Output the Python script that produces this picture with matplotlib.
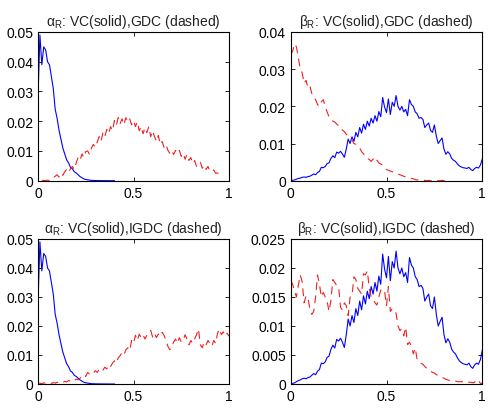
import numpy as np
import matplotlib
matplotlib.use("Agg")
import matplotlib.pyplot as plt

plt.rcParams['font.family'] = ['Liberation Sans', 'DejaVu Sans']
plt.rcParams['mathtext.fontset'] = 'custom'
plt.rcParams['mathtext.rm'] = 'Liberation Sans'
plt.rcParams['mathtext.it'] = 'Liberation Sans'

# ---------------- data ----------------
# alpha_R, VC (solid) -- same in both alpha panels
x_alpha_vc = np.round(np.arange(0, 0.401, 0.01), 2)
alpha_vc = [0.028, 0.049, 0.039, 0.045, 0.044, 0.040, 0.039, 0.035, 0.031, 0.024,
            0.021, 0.017, 0.014, 0.011, 0.009, 0.007, 0.006, 0.0045, 0.0040, 0.0030,
            0.0026, 0.0020, 0.0014, 0.0010, 0.0006, 0.0004, 0.0003, 0.0002, 0.0001, 0.0001,
            0.00005, 0.00005, 0.00003, 0.00003, 0.00002, 0.00002, 0.00001, 0.00001, 0.0, 0.0, 0.0]

# alpha_R, GDC (dashed)
x_alpha_gdc = np.round(np.arange(0.02, 0.951, 0.01), 2)
alpha_gdc = [0.0, 0.0001, 0.0, 0.0002, 0.0001, 0.0005, 0.001, 0.0015, 0.002, 0.0012,
             0.0025, 0.0018, 0.003, 0.0038, 0.0028, 0.004, 0.0048, 0.0038, 0.006, 0.0078,
             0.0068, 0.009, 0.0078, 0.0098, 0.010, 0.0088, 0.011, 0.0122, 0.0112, 0.013,
             0.0148, 0.0132, 0.0162, 0.0148, 0.0172, 0.0158, 0.0182, 0.0168, 0.0202, 0.0185,
             0.0212, 0.0192, 0.0208, 0.0188, 0.0212, 0.0198, 0.0208, 0.0188, 0.0202, 0.0182,
             0.0198, 0.0168, 0.0182, 0.0158, 0.0178, 0.0162, 0.0182, 0.0148, 0.0168, 0.0148,
             0.0132, 0.0152, 0.0122, 0.0132, 0.0112, 0.0122, 0.0102, 0.0092, 0.0102, 0.0088,
             0.0102, 0.0092, 0.0102, 0.0082, 0.0092, 0.0072, 0.0088, 0.0068, 0.0078, 0.0058,
             0.0068, 0.0048, 0.0058, 0.0062, 0.0042, 0.0052, 0.0038, 0.0048, 0.0032, 0.003,
             0.0036, 0.0025, 0.0026, 0.002]

# alpha_R, IGDC (dashed)
x_alpha_igdc = np.round(np.arange(0, 1.001, 0.01), 2)
alpha_igdc = [0.0002, 0.0003, 0.0001, 0.0004, 0.0002, 0.0001, 0.0003, 0.0002, 0.0005, 0.0003,
              0.0006, 0.0004, 0.0007, 0.0005, 0.0009, 0.0007, 0.0012, 0.0010, 0.0015, 0.0012,
              0.0017, 0.0014, 0.0020, 0.0025, 0.0032, 0.0026, 0.0040, 0.0035, 0.0042, 0.0038,
              0.0046, 0.0040, 0.0050, 0.0055, 0.0048, 0.0058, 0.0052, 0.0066, 0.0060, 0.0072,
              0.0080, 0.0072, 0.0090, 0.0098, 0.0108, 0.0100, 0.0118, 0.0125, 0.0115, 0.0150,
              0.0140, 0.0168, 0.0150, 0.0172, 0.0160, 0.0170, 0.0155, 0.0168, 0.0175, 0.0185,
              0.0162, 0.0175, 0.0160, 0.0172, 0.0165, 0.0178, 0.0168, 0.0150, 0.0130, 0.0118,
              0.0125, 0.0145, 0.0155, 0.0140, 0.0160, 0.0145, 0.0150, 0.0170, 0.0155, 0.0135,
              0.0150, 0.0140, 0.0155, 0.0170, 0.0190, 0.0135, 0.0125, 0.0145, 0.0135, 0.0150,
              0.0140, 0.0130, 0.0150, 0.0140, 0.0175, 0.0190, 0.0170, 0.0180, 0.0165, 0.0175,
              0.0165]

# beta_R, VC (solid) -- same in both beta panels
x_beta_vc = np.round(np.arange(0, 1.001, 0.01), 2)
beta_vc = [0.0, 0.0001, 0.0002, 0.0004, 0.0006, 0.0007, 0.0009, 0.0010, 0.0009, 0.0011,
           0.0012, 0.0015, 0.0018, 0.0016, 0.0022, 0.0025, 0.0036, 0.0035, 0.0038, 0.0046,
           0.0048, 0.0060, 0.0067, 0.0062, 0.0077, 0.0074, 0.0079, 0.0072, 0.0063, 0.0085,
           0.0112, 0.0100, 0.0118, 0.0106, 0.0130, 0.0118, 0.0143, 0.0128, 0.0152, 0.0138,
           0.0160, 0.0147, 0.0168, 0.0155, 0.0175, 0.0160, 0.0186, 0.0172, 0.0224, 0.0198,
           0.0183, 0.0220, 0.0178, 0.0211, 0.0200, 0.0229, 0.0200, 0.0190, 0.0200, 0.0185,
           0.0192, 0.0175, 0.0218, 0.0205, 0.0200, 0.0185, 0.0180, 0.0168, 0.0170, 0.0165,
           0.0143, 0.0150, 0.0155, 0.0135, 0.0130, 0.0150, 0.0120, 0.0100, 0.0108, 0.0115,
           0.0085, 0.0071, 0.0078, 0.0072, 0.0060, 0.0055, 0.0052, 0.0045, 0.0040, 0.0037,
           0.0035, 0.0034, 0.0033, 0.0036, 0.0030, 0.0027, 0.0033, 0.0036, 0.0034, 0.0042,
           0.0058]

# beta_R, GDC (dashed)
x_beta_gdc = np.round(np.arange(0, 0.821, 0.01), 2)
beta_gdc = [0.0340, 0.0348, 0.0368, 0.0360, 0.0330, 0.0300, 0.0290, 0.0262, 0.0270, 0.0250,
            0.0255, 0.0235, 0.0225, 0.0218, 0.0205, 0.0200, 0.0212, 0.0218, 0.0200, 0.0185,
            0.0172, 0.0168, 0.0160, 0.0158, 0.0152, 0.0148, 0.0140, 0.0136, 0.0132, 0.0125,
            0.0120, 0.0115, 0.0110, 0.0100, 0.0098, 0.0092, 0.0088, 0.0078, 0.0072, 0.0068,
            0.0060, 0.0057, 0.0052, 0.0058, 0.0064, 0.0055, 0.0048, 0.0045, 0.0042, 0.0035,
            0.0030, 0.0028, 0.0026, 0.0024, 0.0022, 0.0020, 0.0018, 0.0016, 0.0014, 0.0012,
            0.0010, 0.0009, 0.0007, 0.0006, 0.0005, 0.0003, 0.0002, 0.0002, 0.0001, 0.0001,
            0.0001, 0.0, 0.0001, 0.0, 0.0, 0.0001, 0.0, 0.0, 0.0, 0.0001,
            0.0, 0.0, 0.0]

# beta_R, IGDC (dashed)
x_beta_igdc = np.round(np.arange(0, 1.001, 0.01), 2)
beta_igdc = [0.0178, 0.0172, 0.0160, 0.0150, 0.0170, 0.0188, 0.0176, 0.0140, 0.0152, 0.0148,
             0.0130, 0.0120, 0.0125, 0.0150, 0.0188, 0.0172, 0.0150, 0.0158, 0.0150, 0.0143,
             0.0125, 0.0145, 0.0180, 0.0175, 0.0170, 0.0168, 0.0132, 0.0128, 0.0140, 0.0135,
             0.0118, 0.0150, 0.0152, 0.0185, 0.0180, 0.0165, 0.0160, 0.0155, 0.0190, 0.0188,
             0.0195, 0.0165, 0.0150, 0.0146, 0.0140, 0.0136, 0.0150, 0.0162, 0.0158, 0.0160,
             0.0135, 0.0168, 0.0125, 0.0130, 0.0128, 0.0122, 0.0100, 0.0092, 0.0095, 0.0083,
             0.0098, 0.0068, 0.0072, 0.0065, 0.0052, 0.0062, 0.0042, 0.0040, 0.0036, 0.0034,
             0.0030, 0.0027, 0.0025, 0.0022, 0.0020, 0.0019, 0.0016, 0.0015, 0.0013, 0.0011,
             0.0010, 0.0008, 0.0007, 0.0006, 0.0006, 0.0005, 0.0005, 0.0004, 0.0004, 0.0004,
             0.0004, 0.0003, 0.0004, 0.0003, 0.0003, 0.0002, 0.0003, 0.0008, 0.0006, 0.0001,
             0.0001]

titles = [r'$\alpha_\mathrm{R}$: VC(solid),GDC (dashed)',
          r'$\beta_\mathrm{R}$: VC(solid),GDC (dashed)',
          r'$\alpha_\mathrm{R}$: VC(solid),IGDC (dashed)',
          r'$\beta_\mathrm{R}$: VC(solid),IGDC (dashed)']
ymaxes = [0.05, 0.04, 0.05, 0.025]
ytick_steps = [0.01, 0.01, 0.01, 0.005]
xticks = [0, 0.5, 1]
xticklabels = ['0', '0.5', '1']

solid_sets = [(x_alpha_vc, alpha_vc), (x_beta_vc, beta_vc),
              (x_alpha_vc, alpha_vc), (x_beta_vc, beta_vc)]
dashed_sets = [(x_alpha_gdc, alpha_gdc), (x_beta_gdc, beta_gdc),
               (x_alpha_igdc, alpha_igdc), (x_beta_igdc, beta_igdc)]

# ---------------- figure ----------------
W, H = 489, 414
fig = plt.figure(figsize=(W / 100, H / 100), dpi=100)

def rect(l, r, t, b):
    return [l / W, 1 - b / H, (r - l) / W, (b - t) / H]

rects = [rect(38, 229, 33, 181.7), rect(290.7, 482.3, 33, 181.7),
         rect(38, 229, 240, 385), rect(290.7, 482.3, 240, 385)]

def fmt(v):
    if abs(v) < 1e-12:
        return '0'
    return ('%.3f' % v).rstrip('0').rstrip('.')

for i in range(4):
    ax = fig.add_axes(rects[i])
    xs, ys = solid_sets[i]
    ax.plot(xs, ys, color='#0000ff', lw=0.8)
    xd, yd = dashed_sets[i]
    ax.plot(xd, yd, color='#f02020', lw=0.8, dashes=(7, 5))
    ax.set_xlim(0, 1)
    ax.set_ylim(0, ymaxes[i])
    ax.set_xticks(xticks)
    ax.set_xticklabels(xticklabels)
    yt = np.round(np.arange(0, ymaxes[i] + 1e-9, ytick_steps[i]), 4)
    ax.set_yticks(yt)
    ax.set_yticklabels([fmt(v) for v in yt])
    ax.tick_params(direction='in', top=True, right=True, length=3, width=0.6,
                   labelsize=10, pad=3.5)
    for sp in ax.spines.values():
        sp.set_linewidth(0.8)
    ax.set_title(titles[i], fontsize=10, pad=5, color='#222222')

fig.savefig('out.png', dpi=100)
